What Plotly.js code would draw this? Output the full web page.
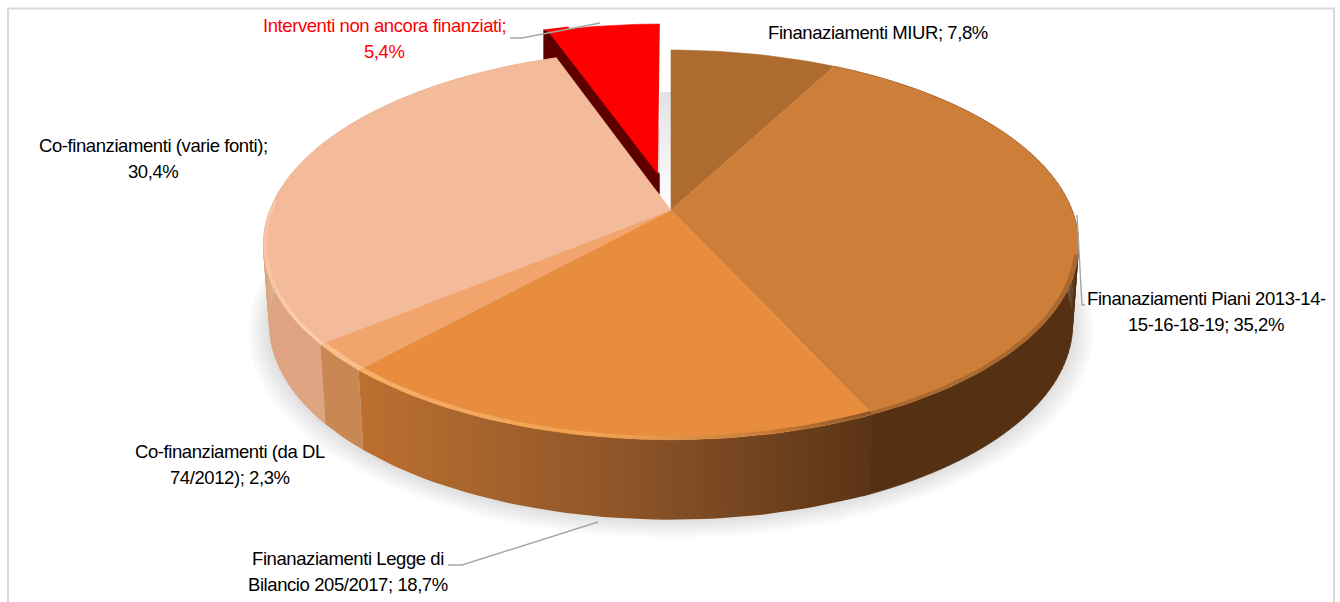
<!DOCTYPE html>
<html><head><meta charset="utf-8">
<script src="https://cdn.plot.ly/plotly-3.0.1.min.js"></script>
<style>html,body{margin:0;padding:0;background:#fff}#c{width:1340px;height:602px}
.annotation-text{letter-spacing:-0.42px}</style>
</head><body><div id="c"></div>
<script>
const categories = ["Finanaziamenti MIUR","Finanaziamenti Piani 2013-14-15-16-18-19","Finanaziamenti Legge di Bilancio 205/2017","Co-finanziamenti (da DL 74/2012)","Co-finanziamenti (varie fonti)","Interventi non ancora finanziati"];
const values = [7.8,35.2,18.7,2.3,30.4,5.4];
const topColors = ["#AE6B30","#CD7E38","#E88D3E","#F2A46D","#F4BB9A","#FF0000"];
const labelLines = [["Finanaziamenti MIUR; 7,8%"],["Finanaziamenti Piani 2013-14-","15-16-18-19; 35,2%"],["Finanaziamenti Legge di","Bilancio 205/2017; 18,7%"],["Co-finanziamenti (da DL","74/2012); 2,3%"],["Co-finanziamenti (varie fonti);","30,4%"],["Interventi non ancora finanziati;","5,4%"]];
const labelX = [878,1206,348,230,153,384];
const labelY = [32,298,558,451,145,25];
const lineGap = 26;
const sideFills = [
  {c:"#6B3F1B"},
  {c:"#553012"},
  {g:[[0,"#BC7030"],[0.5,"#8F5629"],[1,"#5A3416"]]},
  {g:[[0,"#C98753"],[1,"#C98753"]]},
  {c:"#DEA481"}
];
const leaders = [
  [[510,522,600],[38,38,23]],
  [[1077,1082,1085],[215,305,305]],
  [[598,462,448],[522,565,565]]
];

// perspective view of the pie's disc
const CX=671, CY=210, A=401, B=188.6, K=0.179, DEPTH=80, BOTTOM_X=0.985, EXPLODE=0.2;
function proj(u,v){const w=1-K*v;return [CX+A*u/w, CY+B*v/w];}
function rim(deg,r=1,ou=0,ov=0){const t=deg*Math.PI/180;return proj(ou+r*Math.sin(t),ov-r*Math.cos(t));}
function arc(a,b,r=1,ou=0,ov=0){const n=Math.max(2,Math.ceil(Math.abs(b-a)/1.5));const p=[];for(let i=0;i<=n;i++)p.push(rim(a+(b-a)*i/n,r,ou,ov));return p;}
function low(p,dy=DEPTH,s=BOTTOM_X){return [CX+(p[0]-CX)*s,p[1]+dy];}
function poly(pts,o){
  const t={type:"scatter",mode:"lines",x:pts.map(p=>p?p[0]:null),y:pts.map(p=>p?p[1]:null),fill:"toself",hoverinfo:"skip",showlegend:false,
    line:{width:o.lw===undefined?0.6:o.lw,color:o.c||"rgba(0,0,0,0)"}};
  if(o.g){t.fillgradient={type:o.gt||"horizontal",colorscale:o.g};t.line.color="rgba(0,0,0,0)";t.line.width=0;}
  else t.fillcolor=o.c;
  return t;
}

const total=values.reduce((a,b)=>a+b,0);
const start=[];let acc=0;values.forEach(v=>{start.push(acc);acc+=v;});
const ang=i=>[start[i]/total*360,(start[i]+values[i])/total*360];
const traces=[];

// soft ground shadow
for(let i=6;i>=1;i--){
  const pts=arc(0,360,1+i*0.0085).map(p=>low(p,DEPTH+i*0.6));
  traces.push(poly(pts,{c:"rgba(60,60,70,0.028)",lw:0}));
}

// pale inner wall next to the detached slice
const apex=proj(0,0), miurTop=rim(0);
traces.push(poly([[apex[0],miurTop[1]+42],apex,[apex[0]-11,apex[1]-14],[apex[0]-11,miurTop[1]+42]],
  {g:[[0,"#FFFFFF"],[1,"#E2E2E6"]],gt:"vertical"}));

// detached slice
{
  const [a,b]=ang(5),m=(a+b)/2*Math.PI/180,ou=EXPLODE*Math.sin(m),ov=-EXPLODE*Math.cos(m);
  const ap=proj(ou,ov),outer=rim(a,1,ou,ov);
  traces.push(poly([[outer[0]-5,outer[1]-2],[outer[0]-5,outer[1]+30],[ap[0]+1.5,ap[1]+20],[ap[0]+1.5,ap[1]],outer],{c:"#5E0000"}));
  traces.push(poly([ap,...arc(a,b,1,ou,ov)],{c:topColors[5]}));
  traces.push(poly([[outer[0]-5,outer[1]-2],[outer[0]+20,outer[1]-5],[outer[0]+20,outer[1]-2],outer],{c:topColors[5],lw:0}));
}

// side walls: solid ones are swept strip by strip so the silhouette stays straight
[4,1,3,2].forEach(i=>{
  const [a,b]=ang(i), f=sideFills[i], t=arc(a,i===1?b+1:b);
  if(f.g){
    traces.push(poly([...t,...t.slice().reverse().map(p=>low(p))],f));
  }else{
    const pts=[];
    for(let j=0;j<t.length-1;j++){pts.push(t[j],t[j+1],low(t[j+1]),low(t[j]),t[j],null);}
    pts.pop();
    traces.push(poly(pts,f));
  }
});

// top faces
for(let i=0;i<5;i++){
  const [a,b]=ang(i);
  traces.push(poly([apex,...arc(a,b)],{c:topColors[i]}));
}

// bevel on the rim
function band(a,b,o,inner){
  const out=arc(a,b),inn=arc(a,b,inner);
  traces.push(poly([...out,...inn.reverse()],o));
}
const [a2,b2]=ang(2),[a3,b3]=ang(3),[a4,b4]=ang(4),[a1,b1]=ang(1);
band(a1+75,b1,{c:"#A8682F",lw:0},0.99);
band(a2,b2,{g:[[0,"#F7AE66"],[0.5,"#F0A050"],[0.8,"#C67C3A"],[1,"#8C5526"]]},0.987);
band(a3,b3,{c:"#F8BE8C",lw:0},0.987);
band(a4,a4+42,{g:[[0,"#F6C4A4"],[0.6,"#FBCFAB"],[1,"#FBCFAB"]]},0.992);

// leader lines
leaders.forEach(l=>traces.push({type:"scatter",mode:"lines",x:l[0],y:l[1],hoverinfo:"skip",showlegend:false,line:{color:"#A6A6A6",width:1.4}}));

// labels
const annotations=[];
labelLines.forEach((lines,i)=>lines.forEach((s,j)=>annotations.push({
  x:labelX[i],y:labelY[i]+j*lineGap,xref:"x",yref:"y",text:s,showarrow:false,xanchor:"center",yanchor:"middle",
  font:{family:"'Liberation Sans',Arial,sans-serif",size:18.5,color:i===5?"#FF0000":"#000000"}
})));

Plotly.newPlot("c",traces,{
  width:1340,height:602,margin:{l:0,r:0,t:0,b:0},paper_bgcolor:"#fff",plot_bgcolor:"#fff",showlegend:false,
  xaxis:{range:[0,1340],visible:false,fixedrange:true},
  yaxis:{range:[602,0],visible:false,fixedrange:true},
  annotations,
  shapes:[{type:"rect",xref:"x",yref:"y",x0:8,x1:1334,y0:8.5,y1:640,line:{color:"#D9D9D9",width:2},layer:"below"}]
},{displayModeBar:false,staticPlot:true});
</script></body></html>
